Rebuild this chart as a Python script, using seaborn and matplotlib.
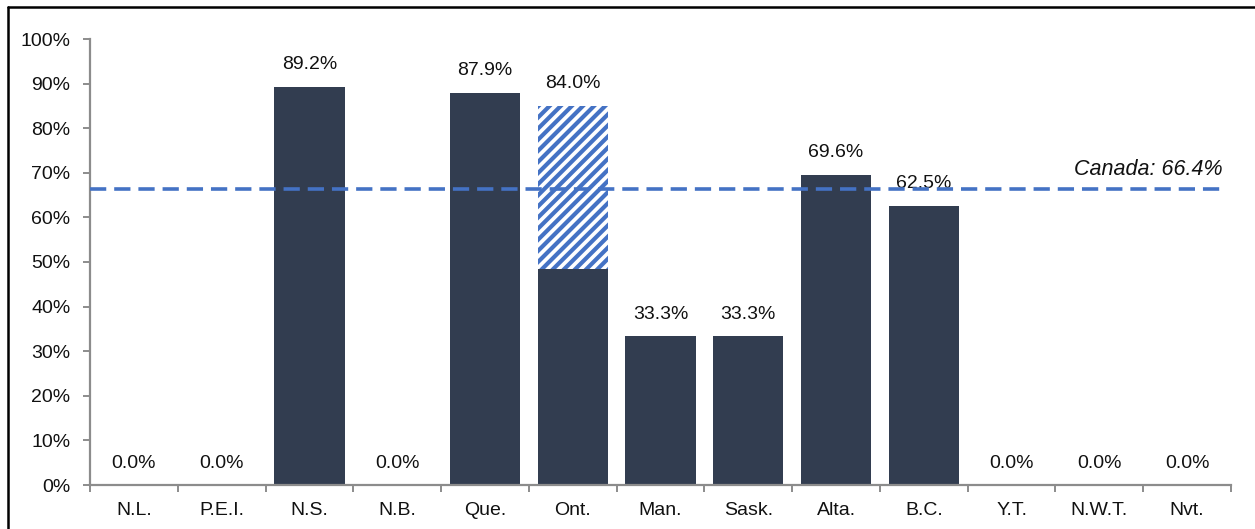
import matplotlib
matplotlib.use("Agg")
import matplotlib.pyplot as plt
from matplotlib.lines import Line2D
import seaborn as sns
import pandas as pd

provinces = ["N.L.", "P.E.I.", "N.S.", "N.B.", "Que.", "Ont.", "Man.", "Sask.",
             "Alta.", "B.C.", "Y.T.", "N.W.T.", "Nvt."]
share = [0.0, 0.0, 89.2, 0.0, 87.9, 84.0, 33.3, 33.3, 69.6, 62.5, 0.0, 0.0, 0.0]
solid_part = [0.0, 0.0, 89.2, 0.0, 87.9, 48.5, 33.3, 33.3, 69.6, 62.5, 0.0, 0.0, 0.0]
hatched_top = [0.0, 0.0, 0.0, 0.0, 0.0, 85.0, 0.0, 0.0, 0.0, 0.0, 0.0, 0.0, 0.0]
canada_avg = 66.4
y_ticks = [0, 10, 20, 30, 40, 50, 60, 70, 80, 90, 100]

BAR = "#323d50"
BLUE = "#4472c4"
GREY = "#8c8c8c"

sns.set_theme(style="white")
plt.rcParams["font.family"] = ["Liberation Sans", "DejaVu Sans"]
plt.rcParams["hatch.linewidth"] = 3.0

df = pd.DataFrame({"prov": provinces, "share": share, "solid": solid_part,
                   "hatched": hatched_top})

fig = plt.figure(figsize=(12.55, 5.29), dpi=100)
ax = fig.add_axes([90 / 1255, 1 - 485 / 529, (1231 - 90) / 1255, (485 - 39) / 529])

sns.barplot(data=df, x="prov", y="hatched", ax=ax, color="white", saturation=1,
            edgecolor=BLUE, linewidth=0, hatch="///", width=0.8)
sns.barplot(data=df, x="prov", y="solid", ax=ax, color=BAR, saturation=1,
            linewidth=0, width=0.8)

ax.set_xlim(-0.5, len(provinces) - 0.5)
ax.set_ylim(0, 100)
ax.set_yticks(y_ticks)
ax.set_yticklabels([f"{t}%" for t in y_ticks])
ax.set_xlabel("")
ax.set_ylabel("")

tops = [max(a, b) for a, b in zip(solid_part, hatched_top)]
for i, (v, top) in enumerate(zip(share, tops)):
    off = 10 if top > 0 else 9
    ax.annotate(f"{v:.1f}%", xy=(i, top), xytext=(0, off), textcoords="offset points",
                ha="center", va="bottom", fontsize=14, color="#111111",
                annotation_clip=False)

ax.plot([-0.5, len(provinces) - 0.58], [canada_avg, canada_avg], color=BLUE,
        linestyle=(0, (4.5, 2.2)), linewidth=2.6, zorder=5, clip_on=False)
ax.text(len(provinces) - 0.59, canada_avg + 2.0, f"Canada: {canada_avg}%",
        ha="right", va="bottom", fontsize=15.5, style="italic", color="#111111")

for s in ["top", "right"]:
    ax.spines[s].set_visible(False)
for s in ["left", "bottom"]:
    ax.spines[s].set_color(GREY)
    ax.spines[s].set_linewidth(1.6)

ax.tick_params(axis="y", which="major", left=True, length=5, width=1.4, color=GREY,
               direction="out", pad=9, labelsize=14, labelcolor="#111111")
ax.set_xticks([i - 0.5 for i in range(len(provinces) + 1)], minor=True)
ax.tick_params(axis="x", which="minor", bottom=True, length=5, width=1.4, color=GREY,
               direction="out")
ax.tick_params(axis="x", which="major", bottom=False, length=0, pad=12,
               labelsize=14, labelcolor="#111111")
ax.grid(False)

# outer frame (screenshot border)
fig.add_artist(Line2D([8 / 1255, 8 / 1255], [0, 1 - 7 / 529], color="black",
                      linewidth=1.8, transform=fig.transFigure))
fig.add_artist(Line2D([8 / 1255, 1], [1 - 7 / 529, 1 - 7 / 529], color="black",
                      linewidth=1.8, transform=fig.transFigure))

fig.savefig("out.png", dpi=100, facecolor="white")
